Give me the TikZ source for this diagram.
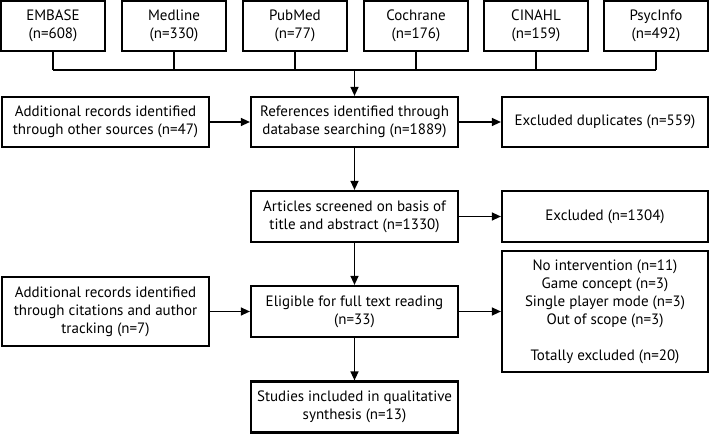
\documentclass[tikz,border=0pt]{standalone}
\usepackage{fontspec}
\setmainfont{PT Sans}
\usetikzlibrary{arrows.meta}
\begin{document}
\begin{tikzpicture}[x=1bp,y=-1bp,
  box/.style={draw,line width=2.2bp,inner sep=0pt,align=center,
    font=\fontsize{15bp}{18bp}\selectfont},
  src/.style={box,minimum width=104bp,minimum height=50bp},
  wide/.style={box,minimum width=207bp,minimum height=50bp},
  conn/.style={line width=1.3bp},
  arr/.style={conn,-{Triangle[length=9bp,width=8bp]}}]
\useasboundingbox (0,0) rectangle (710,434);
\node[src] (emb) at (53,26) {EMBASE\\(n=608)};
\node[src] (med) at (174,26) {Medline\\(n=330)};
\node[src] (pub) at (295,26) {PubMed\\(n=77)};
\node[src] (coc) at (416,26) {Cochrane\\(n=176)};
\node[src] (cin) at (536,26) {CINAHL\\(n=159)};
\node[src] (psy) at (656,26) {PsycInfo\\(n=492)};
\node[wide] (add1) at (105.5,122) {Additional records identified\\through other sources (n=47)};
\node[wide] (ref) at (354.5,122) {References identified through\\database searching (n=1889)};
\node[wide,minimum width=206bp] (dup) at (605,122) {Excluded duplicates (n=559)};
\node[wide,minimum height=51bp] (scr) at (354.5,216.5) {Articles screened on basis of\\title and abstract (n=1330)};
\node[wide,minimum width=206bp,minimum height=51bp] (exc) at (605,216.5) {Excluded (n=1304)};
\node[wide,minimum height=69bp] (add2) at (105.5,311.5) {Additional records identified\\through citations and author\\tracking (n=7)};
\node[wide,minimum height=51bp] (eli) at (354.5,311.5) {Eligible for full text reading\\(n=33)};
\node[wide,minimum width=206bp,minimum height=121bp] (lst) at (605,311.5) {No intervention (n=11)\\Game concept (n=3)\\Single player mode (n=3)\\Out of scope (n=3)\\[18bp]Totally excluded (n=20)};
\node[wide,minimum height=51bp] (stu) at (354.5,407) {Studies included in qualitative\\synthesis (n=13)};
\coordinate (bus) at (0,70);
\foreach \n in {emb,med,pub,coc,cin,psy} \draw[conn] (\n.south) -- (\n.south |- bus);
\draw[conn] (emb.south |- bus) -- (psy.south |- bus);
\draw[arr] (ref.north |- bus) -- (ref.north);
\draw[arr] (add1) -- (ref);
\draw[arr] (ref) -- (dup);
\draw[arr] (ref) -- (scr);
\draw[arr] (scr) -- (exc);
\draw[arr] (scr) -- (eli);
\draw[arr] (add2) -- (eli);
\draw[arr] (eli.east) -- (eli.east -| lst.west);
\draw[arr] (eli) -- (stu);
\end{tikzpicture}
\end{document}
